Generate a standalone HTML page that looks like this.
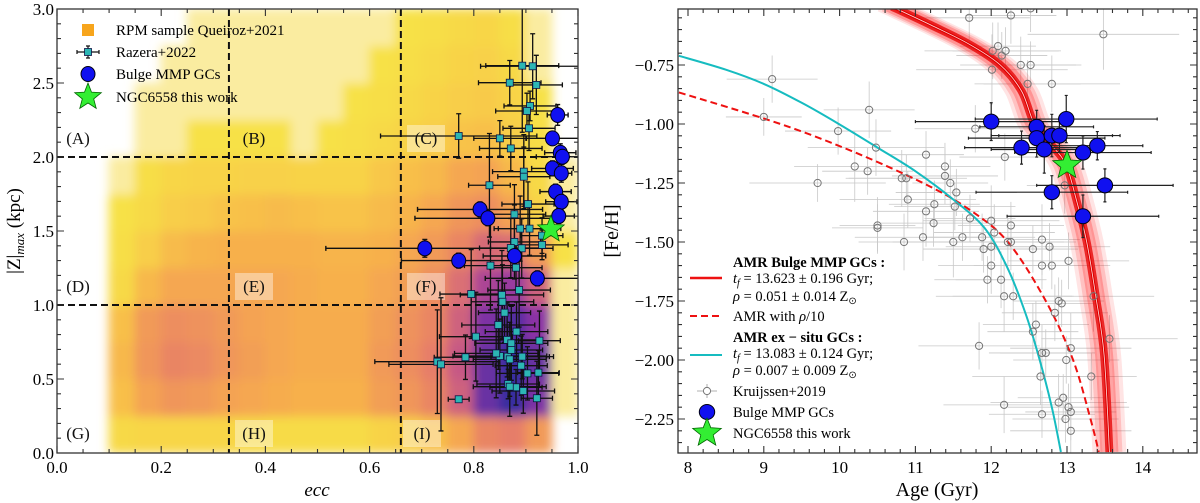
<!DOCTYPE html>
<html><head><meta charset="utf-8">
<style>
html,body{margin:0;padding:0;background:#fff;}
svg{display:block;font-family:"Liberation Serif",serif;}
</style></head>
<body>
<svg id="fig" width="1200" height="503" viewBox="0 0 1200 503" xmlns="http://www.w3.org/2000/svg">
<defs>
<clipPath id="clipL"><rect x="57" y="9" width="521" height="444"/></clipPath>
<clipPath id="clipR"><rect x="678" y="9" width="519" height="444"/></clipPath>
<filter id="blurH" x="-5%" y="-5%" width="110%" height="110%"><feGaussianBlur stdDeviation="5"/></filter>
</defs>
<g id="left">
  <g id="heat" clip-path="url(#clipL)"></g>
  <g id="lLines" clip-path="url(#clipL)"></g>
  <g id="lRegions"></g>
  <g id="lData" clip-path="url(#clipL)"></g>
  <rect x="57" y="9" width="521" height="444" fill="none" stroke="#333" stroke-width="1.3"/>
  <g id="lTicks"></g>
  <text x="317" y="496" font-size="19" font-style="italic" text-anchor="middle">ecc</text>
  <text transform="translate(20,231) rotate(-90)" font-size="19" text-anchor="middle">|Z|<tspan font-style="italic" font-size="13" dy="4">max</tspan><tspan dy="-4"> (kpc)</tspan></text>
  <g id="lLegend"></g>
</g>
<g id="right">
  <g id="rData" clip-path="url(#clipR)"></g>
  <rect x="678" y="9" width="519" height="444" fill="none" stroke="#333" stroke-width="1.3"/>
  <g id="rTicks"></g>
  <text x="937" y="496" font-size="20" text-anchor="middle">Age (Gyr)</text>
  <text transform="translate(618,231) rotate(-90)" font-size="20" text-anchor="middle">[Fe/H]</text>
  <g id="rLegend"></g>
</g>
</svg>
<script>
// ---------- LEFT PANEL DATA ----------
const heatEcc = [0,0.05,0.1,0.15,0.2,0.25,0.3,0.35,0.4,0.45,0.5,0.55,0.6,0.65,0.7,0.75,0.8,0.85,0.9,0.95];
const heatZ = [0,0.25,0.5,0.75,1.0,1.25,1.5,1.75,2.0,2.25,2.5,2.75];
const heatLevels = [
 [0,0,0.8,0.9,0.9,0.9,0.9,0.8,0.7,0.7,0.7,0.7,1.0,1.2,1.6,2.2,3.0,3.2,2.5,0],
 [0,0,1.6,2.3,2.6,2.5,2.3,2.2,2.1,2.0,2.0,2.0,2.4,2.6,3.0,3.8,5.5,6.2,5.2,0.3],
 [0,0,1.8,2.6,3.0,2.9,2.6,2.4,2.2,2.1,2.1,2.1,2.5,2.8,3.2,4.0,5.5,6.2,5.5,0.3],
 [0,0,1.6,2.5,2.8,2.7,2.5,2.3,2.2,2.1,2.1,2.1,2.4,2.7,3.0,3.8,5.2,5.8,5.0,0.3],
 [0,0,0.8,1.8,2.2,2.2,2.2,2.2,2.2,2.1,2.0,2.0,2.2,2.4,2.8,3.5,4.5,4.8,3.8,0.4],
 [0,0,0.6,1.2,1.7,1.9,2.0,2.0,2.0,2.0,1.9,1.9,2.0,2.2,2.5,3.0,3.6,3.5,2.5,0.5],
 [0,0,0.5,0.8,1.2,1.3,1.5,1.6,1.7,1.6,1.5,1.5,1.7,1.9,2.2,2.6,2.8,2.3,1.0,0.2],
 [0,0,0.3,0.6,0.9,1.0,1.0,1.1,1.1,1.0,1.0,1.0,1.4,1.6,1.8,2.2,2.3,1.8,0.8,0.2],
 [0,0,0.1,0.3,0.4,0.5,0.5,0.5,0.5,0.4,0.5,0.6,0.8,1.0,1.2,1.5,1.6,1.2,0.6,0.1],
 [0,0,0,0.2,0.3,0.4,0.4,0.4,0.4,0.3,0.4,0.5,0.6,0.8,1.0,1.2,1.3,1.0,0.5,0],
 [0,0,0,0.1,0.2,0.3,0.3,0.3,0.3,0.3,0.3,0.4,0.5,0.6,0.8,1.0,1.1,0.8,0.4,0],
 [0,0,0,0.1,0.1,0.2,0.2,0.2,0.2,0.2,0.2,0.3,0.4,0.5,0.6,0.8,0.9,0.6,0.3,0]
];
const razEcc = [0.893,0.913,0.869,0.920,0.908,0.902,0.771,0.850,0.906,0.871,0.896,0.896,0.830,0.904,0.878,0.889,0.907,0.931,0.931,0.878,0.871,0.892,0.832,0.881,0.887,0.795,0.854,0.855,0.859,0.847,0.882,0.804,0.864,0.872,0.926,0.784,0.850,0.865,0.893,0.730,0.737,0.869,0.891,0.924,0.903,0.866,0.881,0.895,0.921,0.771,0.869,0.843,0.872];
const razZ = [2.617,2.613,2.502,2.487,2.345,2.311,2.142,2.126,2.194,2.058,1.901,1.867,1.809,1.682,1.613,1.516,1.516,1.469,1.406,1.426,1.385,1.383,1.266,1.252,1.101,1.074,1.068,1.022,0.948,0.865,0.820,0.786,0.764,0.741,0.759,0.647,0.655,0.651,0.651,0.617,0.599,0.633,0.590,0.543,0.538,0.466,0.444,0.419,0.370,0.363,0.448,0.673,0.696];
const razXerr = [0.07,0.10,0.06,0.05,0.05,0.06,0.15,0.05,0.05,0.06,0.06,0.05,0.04,0.05,0.06,0.05,0.06,0.04,0.05,0.05,0.06,0.06,0.05,0.05,0.06,0.06,0.08,0.06,0.05,0.07,0.06,0.07,0.06,0.07,0.04,0.06,0.09,0.08,0.06,0.12,0.10,0.07,0.05,0.04,0.06,0.06,0.05,0.06,0.03,0.02,0.07,0.08,0.06];
const razYerr = [0.45,0.22,0.15,0.20,0.10,0.12,0.15,0.12,0.15,0.15,0.25,0.20,0.35,0.15,0.20,0.22,0.18,0.12,0.10,0.25,0.20,0.20,0.30,0.15,0.25,0.30,0.30,0.25,0.20,0.30,0.20,0.30,0.25,0.25,0.20,0.15,0.25,0.20,0.15,0.35,0.45,0.25,0.20,0.15,0.18,0.10,0.12,0.15,0.25,0.02,0.20,0.30,0.25];
const bulgeEcc = [0.961,0.951,0.966,0.970,0.951,0.968,0.957,0.968,0.963,0.812,0.827,0.706,0.771,0.878,0.922];
const bulgeZ = [2.284,2.126,2.029,2.002,1.923,1.890,1.766,1.698,1.601,1.646,1.586,1.383,1.300,1.331,1.180];
const bulgeXerr = [0.02,0.05,0.03,0.05,0.04,0.02,0.03,0.03,0.03,0.12,0.14,0.19,0.11,0.06,0.10];
const bulgeYerr = [0.07,0.04,0.06,0.05,0.05,0.06,0.05,0.05,0.05,0.05,0.05,0.06,0.05,0.06,0.05];
const starEcc = [0.948], starZ = [1.511];

// ---------- RIGHT PANEL DATA ----------
const amrAge = [10.69,11.2,11.7,12.12,12.40,12.57,12.80,12.99,13.13,13.26,13.38,13.49,13.56];
const amrFeh = [-0.503,-0.58,-0.66,-0.75,-0.86,-1.0,-1.09,-1.175,-1.33,-1.5,-1.73,-1.98,-2.39];
const dashAge = [7.88,9.22,10.2,11.10,11.7,12.22,12.72,13.08,13.31,13.42];
const dashFeh = [-0.866,-1.0,-1.12,-1.25,-1.36,-1.5,-1.75,-2.0,-2.25,-2.39];
const cyanAge = [7.88,8.5,9.0,9.5,9.99,10.5,11.0,11.5,11.91,12.2,12.45,12.64,12.8,12.92];
const cyanFeh = [-0.711,-0.77,-0.83,-0.91,-1.0,-1.1,-1.2,-1.32,-1.44,-1.6,-1.8,-2.0,-2.2,-2.39];
const kAge = [11.71,12.26,12.52,13.48,12.09,12.02,12.14,12.19,12.39,12.52,12.01,12.48,12.80,9.11,9.00,10.39,9.98,11.79,10.48,11.14,12.18,10.20,10.37,9.71,10.82,10.88,11.39,11.39,11.46,11.54,10.90,11.25,11.14,11.52,10.50,10.50,11.24,12.00,11.72,12.04,12.26,10.85,11.10,11.50,11.62,11.88,12.00,11.90,12.22,12.26,12.55,12.67,12.77,12.00,12.67,12.80,13.02,11.95,12.13,12.17,12.29,12.84,12.89,12.93,13.35,12.59,12.55,13.56,11.84,12.67,12.72,13.05,12.99,12.65,13.32,12.17,12.67,12.95,12.89,13.02,13.05,12.98,13.05,12.97];
const kFeh = [-0.55,-0.54,-0.51,-0.62,-0.67,-0.69,-0.71,-0.69,-0.75,-0.75,-0.77,-0.83,-0.83,-0.81,-0.97,-0.94,-1.03,-1.02,-1.10,-1.13,-1.14,-1.18,-1.20,-1.25,-1.23,-1.23,-1.18,-1.22,-1.25,-1.29,-1.32,-1.34,-1.37,-1.35,-1.43,-1.44,-1.42,-1.41,-1.40,-1.46,-1.43,-1.50,-1.48,-1.50,-1.48,-1.48,-1.52,-1.53,-1.50,-1.50,-1.53,-1.49,-1.52,-1.60,-1.60,-1.60,-1.58,-1.66,-1.66,-1.73,-1.73,-1.80,-1.75,-1.76,-1.73,-1.85,-1.88,-1.91,-1.94,-1.97,-1.97,-1.95,-2.00,-2.07,-2.07,-2.19,-2.23,-2.16,-2.18,-2.20,-2.22,-2.25,-2.30,-1.26];
const kXerr = [0.8,0.6,0.7,1.0,0.5,0.9,0.6,0.7,0.8,0.6,1.0,0.7,0.9,0.6,0.5,0.6,0.7,0.8,0.9,0.5,0.6,0.8,0.6,0.9,0.7,0.8,0.6,0.7,0.5,0.8,0.9,0.6,0.7,0.8,0.5,0.6,0.7,0.9,0.6,0.8,0.7,0.6,0.9,0.8,0.5,0.7,0.6,0.8,0.9,0.7,0.6,0.5,0.8,0.7,0.9,0.6,0.8,0.7,0.6,0.9,0.8,0.7,0.6,0.5,0.8,0.7,0.6,0.9,0.8,0.7,0.6,0.8,0.7,0.9,0.6,0.8,0.7,0.6,0.9,0.8,0.6,0.7,0.8,0.5];
const kYerr = [0.10,0.12,0.10,0.15,0.10,0.12,0.10,0.10,0.12,0.10,0.15,0.10,0.12,0.10,0.08,0.12,0.10,0.10,0.12,0.10,0.10,0.15,0.10,0.08,0.12,0.10,0.10,0.12,0.10,0.10,0.12,0.10,0.15,0.10,0.12,0.10,0.10,0.15,0.10,0.12,0.10,0.12,0.10,0.15,0.10,0.10,0.12,0.10,0.10,0.12,0.10,0.15,0.10,0.12,0.10,0.10,0.12,0.10,0.12,0.15,0.10,0.12,0.10,0.10,0.15,0.10,0.12,0.10,0.10,0.12,0.10,0.15,0.10,0.12,0.10,0.12,0.10,0.10,0.12,0.10,0.12,0.10,0.10,0.12];
const bAge = [12.00,12.60,12.99,12.60,12.80,12.90,12.40,12.70,13.21,13.40,12.80,13.50,13.21];
const bFeh = [-0.990,-1.012,-0.979,-1.060,-1.049,-1.049,-1.100,-1.108,-1.121,-1.092,-1.289,-1.260,-1.391];
const bXerr = [1.0,0.75,1.2,0.9,0.8,0.8,0.75,0.7,0.9,0.6,1.0,0.9,1.0];
const bYerr = [0.08,0.07,0.10,0.08,0.09,0.07,0.07,0.10,0.07,0.06,0.07,0.07,0.09];
const sAge = [13.0], sFeh = [-1.175];

const xTicksL = [0,0.2,0.4,0.6,0.8,1.0];
const yTicksL = [0,0.5,1.0,1.5,2.0,2.5,3.0];
const xTicksR = [8,9,10,11,12,13,14];
const yTicksR = [-2.25,-2.0,-1.75,-1.5,-1.25,-1.0,-0.75];

// ---------- helpers ----------
const NS = "http://www.w3.org/2000/svg";
function mk(tag, attrs, parent){
  const e = document.createElementNS(NS, tag);
  for (const k in attrs) e.setAttribute(k, attrs[k]);
  parent.appendChild(e); return e;
}
const lx = e => 57 + e*521;
const ly = z => 453 - z*148;
const rx = a => 688 + (a-8)*75.8;
const ry = f => 124 + (-1-f)*236;

function heatColor(v){
  if (v < 0.15) return null;
  if (v < 0.45) return 'rgb(250,236,160)';
  const stops = [[0.45,[247,226,70]],[1.2,[248,206,72]],[2.0,[247,176,76]],[2.6,[240,150,90]],[3.2,[230,125,105]],[4.2,[190,80,140]],[5.0,[140,50,165]],[6.2,[55,45,160]]];
  for (let i=1;i<stops.length;i++){
    if (v <= stops[i][0]){
      const t=(v-stops[i-1][0])/(stops[i][0]-stops[i-1][0]);
      const c=stops[i-1][1].map((c0,j)=>Math.round(c0+(stops[i][1][j]-c0)*t));
      return `rgb(${c.join(',')})`;
    }
  }
  return `rgb(${stops[stops.length-1][1].join(',')})`;
}

// ---------- LEFT: heatmap ----------
const heat = document.getElementById('heat');
const heatInner = mk('g',{filter:'url(#blurH)'},heat);


const cw = lx(0.05)-lx(0), ch = ly(0)-ly(0.25);
for (let r=0;r<heatZ.length;r++){
  for (let c=0;c<heatEcc.length;c++){
    const col = heatColor(heatLevels[r][c]);
    if (!col) continue;
    const cell = mk('rect',{x:lx(heatEcc[c])-0.5,y:ly(heatZ[r]+0.25)-0.5,width:cw+1,height:ch+1,fill:col},heatInner);
    
    
  }
}

// dashed dividers
const lLines = document.getElementById('lLines');
[[0.33,null],[0.66,null],[null,1.0],[null,2.0]].forEach(([e,z])=>{
  const a = e!==null ? {x1:lx(e),x2:lx(e),y1:9,y2:453} : {x1:57,x2:578,y1:ly(z),y2:ly(z)};
  const l = mk('line',Object.assign(a,{stroke:'#111','stroke-width':2,'stroke-dasharray':'7,4'}),lLines);
  
  
});

// region labels
const lRegions = document.getElementById('lRegions');
const regs = [['(A)',78,144,false],['(B)',254,144,false],['(C)',426,144,true],['(D)',78,292,false],['(E)',254,292,true],['(F)',426,292,true],['(G)',78,439,false],['(H)',254,439,true],['(I)',422,439,true]];
regs.forEach(([t,x,y,bg])=>{
  if (bg){
    const b = mk('rect',{x:x-19,y:y-19,width:38,height:27,fill:'#fff','fill-opacity':0.4},lRegions);
    
    
  }
  const tx = mk('text',{x:x,y:y,'font-size':17,'text-anchor':'middle',fill:'#111'},lRegions);
  tx.textContent = t;
  
  
});

function errbar(g, x, y, x1, x2, y1, y2, color, w, cap){
  const p = `M${x1},${y}H${x2}M${x},${y1}V${y2}` + (cap?`M${x1},${y-cap}V${y+cap}M${x2},${y-cap}V${y+cap}M${x-cap},${y1}H${x+cap}M${x-cap},${y2}H${x+cap}`:'');
  const e = mk('path',{d:p,stroke:color,'stroke-width':w,fill:'none'},g);
  
  
}
function starPath(cx,cy,R,r){
  let d='';
  for(let i=0;i<10;i++){
    const ang = -Math.PI/2 + i*Math.PI/5;
    const rad = i%2?r:R;
    d += (i?'L':'M') + (cx+rad*Math.cos(ang)).toFixed(1)+','+(cy+rad*Math.sin(ang)).toFixed(1);
  }
  return d+'Z';
}

const lData = document.getElementById('lData');
razEcc.forEach((e,i)=>{
  const x=lx(e), y=ly(razZ[i]);
  errbar(lData,x,y,lx(e-razXerr[i]),lx(e+razXerr[i]),ly(razZ[i]+razYerr[i]),ly(razZ[i]-razYerr[i]),'#111',1.3,2.5);
});
bulgeEcc.forEach((e,i)=>{
  const x=lx(e), y=ly(bulgeZ[i]);
  errbar(lData,x,y,lx(e-bulgeXerr[i]),lx(e+bulgeXerr[i]),ly(bulgeZ[i]+bulgeYerr[i]),ly(bulgeZ[i]-bulgeYerr[i]),'#111',1.4,2.5);
});
razEcc.forEach((e,i)=>{
  const s = mk('rect',{x:lx(e)-3.5,y:ly(razZ[i])-3.5,width:7,height:7,fill:'#2cb6b4',stroke:'#114',"stroke-width":0.8},lData);
  
  
});
bulgeEcc.forEach((e,i)=>{
  const c = mk('ellipse',{cx:lx(e),cy:ly(bulgeZ[i]),rx:7,ry:7.5,fill:'#1010f0',stroke:'#001','stroke-width':1},lData);
  
  
});
starEcc.forEach((e,i)=>{
  const s = mk('path',{d:starPath(lx(e),ly(starZ[i]),14,6),fill:'#33ee33',stroke:'#060','stroke-width':0.8},lData);
  
  
});

// ticks generator
function ticks(g, x0,x1,y0,y1, xs, xmin, fx, ys, ymin, fy, xlab, ylab, fs, ylabX){
  let d='';
  xs.forEach(v=>{const X=fx(v); d+=`M${X},${y1}v-7M${X},${y0}v7`;});
  xmin.forEach(v=>{const X=fx(v); if(X>x0&&X<x1) d+=`M${X},${y1}v-4M${X},${y0}v4`;});
  ys.forEach(v=>{const Y=fy(v); d+=`M${x0},${Y}h7M${x1},${Y}h-7`;});
  ymin.forEach(v=>{const Y=fy(v); if(Y>y0&&Y<y1) d+=`M${x0},${Y}h4M${x1},${Y}h-4`;});
  const p = mk('path',{d:d,stroke:'#333','stroke-width':1.1,fill:'none'},g);
  
  
  xs.forEach((v,i)=>{
    const t = mk('text',{x:fx(v),y:y1+20,'font-size':fs,'text-anchor':'middle'},g);
    t.textContent = xlab[i];
    
    
  });
  ys.forEach((v,i)=>{
    const t = mk('text',{x:ylabX,y:fy(v)+6,'font-size':fs,'text-anchor':'end'},g);
    t.textContent = ylab[i];
    
    
  });
}
const xminL=[], yminL=[], xminR=[], yminR=[];
for(let i=0;i<=20;i++) xminL.push(i*0.05);
for(let i=0;i<=30;i++) yminL.push(i*0.1);
for(let i=0;i<=35;i++) xminR.push(7.8+i*0.2);
for(let i=0;i<=40;i++) yminR.push(-2.45+i*0.05);
ticks(document.getElementById('lTicks'),57,578,9,453,xTicksL,xminL,lx,yTicksL,yminL,ly,
  xTicksL.map(v=>v.toFixed(1)), yTicksL.map(v=>v.toFixed(1)),17,54);
ticks(document.getElementById('rTicks'),678,1197,9,453,xTicksR,xminR,rx,yTicksR,yminR,ry,
  xTicksR.map(v=>String(v)), yTicksR.map(v=>'\u2212'+Math.abs(v).toFixed(2)),17,674);

// left legend
const lLeg = document.getElementById('lLegend');
const li = [['RPM sample Queiroz+2021',30],['Razera+2022',52],['Bulge MMP GCs',74],['NGC6558 this work',97]];
let m;
m = mk('rect',{x:82,y:24,width:12,height:12,fill:'#f7a51c'},lLeg);
 
errbar(lLeg,88,52,77,99,46,58,'#111',1.2,2);
m = mk('rect',{x:84.5,y:48.5,width:7,height:7,fill:'#2cb6b4',stroke:'#114','stroke-width':0.8},lLeg);
 
m = mk('ellipse',{cx:88,cy:74,rx:7,ry:7.5,fill:'#1010f0',stroke:'#001'},lLeg);
 
m = mk('path',{d:starPath(88,97,14,6),fill:'#33ee33',stroke:'#060','stroke-width':0.8},lLeg);
 
li.forEach(([t,y])=>{
  const tx = mk('text',{x:116,y:y+5,'font-size':15},lLeg);
  tx.textContent=t;
  
  
});

// ---------- RIGHT panel ----------
const rData = document.getElementById('rData');
function lineD(ax,fy,sx,sy,dx){
  const P = ax.map((a,i)=>[sx(a)+(dx||0), sy(fy[i])]);
  let d = 'M'+P[0][0].toFixed(1)+','+P[0][1].toFixed(1);
  for (let i=0;i<P.length-1;i++){
    const p0=P[Math.max(0,i-1)], p1=P[i], p2=P[i+1], p3=P[Math.min(P.length-1,i+2)];
    const c1=[p1[0]+(p2[0]-p0[0])/6, p1[1]+(p2[1]-p0[1])/6];
    const c2=[p2[0]-(p3[0]-p1[0])/6, p2[1]-(p3[1]-p1[1])/6];
    d += 'C'+c1.map(v=>v.toFixed(1)).join(',')+' '+c2.map(v=>v.toFixed(1)).join(',')+' '+p2.map(v=>v.toFixed(1)).join(',');
  }
  return d;
}
kAge.forEach((a,i)=>{
  errbar(rData,rx(a),ry(kFeh[i]),rx(a-kXerr[i]),rx(a+kXerr[i]),ry(kFeh[i]+kYerr[i]),ry(kFeh[i]-kYerr[i]),'#c8c8c8',0.8,0);
});
const band = mk('g',{},rData);


[[-12,0.12],[-8,0.18],[-4,0.28],[4,0.28],[8,0.18],[12,0.12]].forEach(([dx,op])=>{
  const p = mk('path',{d:lineD(amrAge,amrFeh,rx,ry,dx),stroke:'#ff2020','stroke-opacity':op,'stroke-width':10,fill:'none'},band);
  
  
});
let pl = mk('path',{d:lineD(amrAge,amrFeh,rx,ry),stroke:'#e81010','stroke-width':8,fill:'none','stroke-opacity':0.85},rData);
 
pl = mk('path',{d:lineD(amrAge,amrFeh,rx,ry),stroke:'#dd0000','stroke-width':3,fill:'none'},rData);
 
pl = mk('path',{d:lineD(amrAge,amrFeh,rx,ry),stroke:'#ffdede','stroke-width':0.8,fill:'none'},rData);
 
pl = mk('path',{d:lineD(dashAge,dashFeh,rx,ry),stroke:'#ee1111','stroke-width':2,'stroke-dasharray':'7,4',fill:'none'},rData);
 
pl = mk('path',{d:lineD(cyanAge,cyanFeh,rx,ry),stroke:'#16bcc0','stroke-width':2,fill:'none'},rData);
 
kAge.forEach((a,i)=>{
  const c = mk('circle',{cx:rx(a),cy:ry(kFeh[i]),r:3.6,fill:'none',stroke:'#777','stroke-width':1},rData);
  
  
});
bAge.forEach((a,i)=>{
  errbar(rData,rx(a),ry(bFeh[i]),rx(a-bXerr[i]),rx(a+bXerr[i]),ry(bFeh[i]+bYerr[i]),ry(bFeh[i]-bYerr[i]),'#222',1.2,1.5);
});
bAge.forEach((a,i)=>{
  const c = mk('ellipse',{cx:rx(a),cy:ry(bFeh[i]),rx:7.7,ry:7.5,fill:'#1010f0',stroke:'#001','stroke-width':1},rData);
  
  
});
sAge.forEach((a,i)=>{
  const s = mk('path',{d:starPath(rx(a),ry(sFeh[i]),15,6.5),fill:'#33ee33',stroke:'#060','stroke-width':0.8},rData);
  
  
});

// right legend
const rLeg = document.getElementById('rLegend');
function rl(t,y,bold){
  const tx = mk('text',{x:733,y:y,'font-size':14.5,'font-weight':bold?'bold':'normal'},rLeg);
  tx.innerHTML = t;
  
  
}
m = mk('line',{x1:690,x2:722,y1:278,y2:278,stroke:'#ee1111','stroke-width':2.5},rLeg);
 
m = mk('line',{x1:690,x2:722,y1:316,y2:316,stroke:'#ee1111','stroke-width':2,'stroke-dasharray':'7,4'},rLeg);
 
m = mk('line',{x1:690,x2:722,y1:355,y2:355,stroke:'#16bcc0','stroke-width':2},rLeg);
 
errbar(rLeg,707,391,697,717,384,398,'#999',0.8,0);
m = mk('circle',{cx:707,cy:391,r:3.6,fill:'#fff',stroke:'#777'},rLeg);
 
m = mk('ellipse',{cx:707,cy:412,rx:7.7,ry:7.5,fill:'#1010f0',stroke:'#001'},rLeg);
 
m = mk('path',{d:starPath(707,433,15,6.5),fill:'#33ee33',stroke:'#060','stroke-width':0.8},rLeg);
 
rl('AMR Bulge MMP GCs :',267,true);
rl('<tspan font-style="italic">t</tspan><tspan font-style="italic" font-size="10" dy="3">f</tspan><tspan dy="-3"> = 13.623 ± 0.196 Gyr;</tspan>',283,false);
rl('<tspan font-style="italic">ρ</tspan> = 0.051 ± 0.014 Z<tspan font-size="10" dy="3">⊙</tspan>',301,false);
rl('AMR with <tspan font-style="italic">ρ</tspan>/10',321,false);
rl('AMR ex − situ GCs :',342,true);
rl('<tspan font-style="italic">t</tspan><tspan font-style="italic" font-size="10" dy="3">f</tspan><tspan dy="-3"> = 13.083 ± 0.124 Gyr;</tspan>',358,false);
rl('<tspan font-style="italic">ρ</tspan> = 0.007 ± 0.009 Z<tspan font-size="10" dy="3">⊙</tspan>',375,false);
rl('Kruijssen+2019',396,false);
rl('Bulge MMP GCs',417,false);
rl('NGC6558 this work',438,false);
</script>
</body></html>
